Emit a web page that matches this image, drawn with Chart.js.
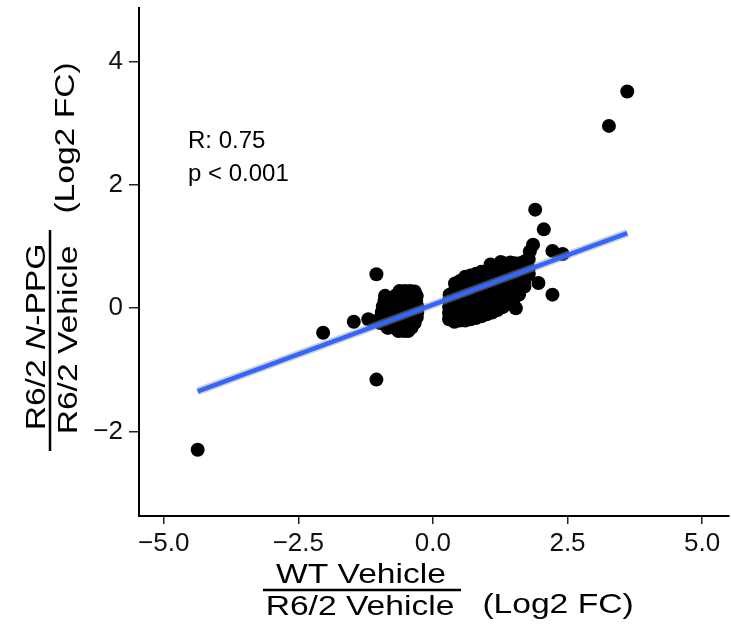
<!DOCTYPE html>
<html>
<head>
<meta charset="utf-8">
<script src="https://cdn.jsdelivr.net/npm/chart.js@4.4.1/dist/chart.umd.min.js"></script>
<style>
  html, body { margin: 0; padding: 0; background: #fff; overflow: hidden; }
  #wrap { width: 731px; height: 626px; }
</style>
</head>
<body>
<div id="wrap"><canvas id="c" width="731" height="626"></canvas></div>
<script>
// ---- data ----
const outlierPoints = [
  [-4.37, -2.30], [-2.04, -0.40], [-1.47, -0.22], [-1.05, 0.55], [-1.05, -1.16],
  [-1.20, -0.18], [1.90, 1.60], [2.06, 1.28], [2.22, 0.93], [2.41, 0.88],
  [1.96, 0.41], [2.22, 0.22], [1.54, 0.00], [3.27, 2.96], [3.61, 3.52], [1.86, 1.03]
];
const negClusterPoints = [
  [-0.62, 0.28], [-0.52, 0.28], [-0.42, 0.28], [-0.34, 0.27],
  [-0.89, 0.20], [-0.70, 0.20], [-0.60, 0.20], [-0.48, 0.20], [-0.38, 0.20], [-0.30, 0.20],
  [-0.90, 0.12], [-0.80, 0.12], [-0.70, 0.12], [-0.60, 0.12], [-0.50, 0.12], [-0.40, 0.12], [-0.31, 0.12],
  [-0.93, 0.03], [-0.84, 0.03], [-0.74, 0.03], [-0.64, 0.03], [-0.55, 0.03], [-0.45, 0.03], [-0.35, 0.03], [-0.29, 0.03],
  [-0.95, -0.06], [-0.86, -0.06], [-0.76, -0.06], [-0.66, -0.06], [-0.56, -0.06], [-0.46, -0.06], [-0.37, -0.06], [-0.29, -0.06],
  [-0.97, -0.15], [-0.88, -0.15], [-0.78, -0.15], [-0.68, -0.15], [-0.58, -0.15], [-0.48, -0.15], [-0.39, -0.15], [-0.30, -0.15],
  [-0.98, -0.24], [-0.87, -0.24], [-0.76, -0.24], [-0.65, -0.24], [-0.55, -0.24], [-0.44, -0.24], [-0.34, -0.24],
  [-0.84, -0.32], [-0.72, -0.32], [-0.62, -0.32], [-0.50, -0.32], [-0.40, -0.32],
  [-0.64, -0.37], [-0.54, -0.37], [-0.46, -0.37]
];
const posClusterPoints = [
  [0.30, -0.18], [0.30, -0.08], [0.30, 0.02], [0.30, 0.12], [0.31, 0.22],
  [0.40, -0.22], [0.40, -0.12], [0.40, -0.02], [0.40, 0.08], [0.40, 0.18], [0.40, 0.28], [0.41, 0.40],
  [0.50, -0.20], [0.50, -0.10], [0.50, 0.00], [0.50, 0.10], [0.50, 0.20], [0.50, 0.30], [0.50, 0.44],
  [0.60, -0.20], [0.60, -0.10], [0.60, 0.00], [0.60, 0.10], [0.60, 0.20], [0.60, 0.30], [0.60, 0.40], [0.60, 0.51],
  [0.70, -0.18], [0.70, -0.08], [0.70, 0.02], [0.70, 0.12], [0.70, 0.22], [0.70, 0.32], [0.70, 0.42], [0.70, 0.53],
  [0.80, -0.16], [0.80, -0.06], [0.80, 0.04], [0.80, 0.14], [0.80, 0.24], [0.80, 0.34], [0.80, 0.44], [0.80, 0.56],
  [0.90, -0.13], [0.90, -0.03], [0.90, 0.07], [0.90, 0.17], [0.90, 0.27], [0.90, 0.37], [0.90, 0.47], [0.90, 0.59],
  [1.00, -0.10], [1.00, 0.00], [1.00, 0.10], [1.00, 0.20], [1.00, 0.30], [1.00, 0.40], [1.00, 0.50], [1.00, 0.60], [1.07, 0.71],
  [1.10, -0.07], [1.10, 0.03], [1.10, 0.13], [1.10, 0.23], [1.10, 0.33], [1.10, 0.43], [1.10, 0.53], [1.10, 0.63],
  [1.20, -0.03], [1.20, 0.07], [1.20, 0.17], [1.20, 0.27], [1.20, 0.37], [1.20, 0.47], [1.20, 0.57], [1.20, 0.67], [1.26, 0.75],
  [1.30, 0.02], [1.30, 0.12], [1.30, 0.22], [1.30, 0.32], [1.30, 0.42], [1.30, 0.52], [1.30, 0.62], [1.32, 0.73],
  [1.40, 0.07], [1.40, 0.17], [1.40, 0.27], [1.40, 0.37], [1.40, 0.47], [1.40, 0.57], [1.40, 0.67], [1.44, 0.74],
  [1.50, 0.14], [1.50, 0.24], [1.50, 0.34], [1.50, 0.44], [1.50, 0.54], [1.50, 0.64], [1.52, 0.73],
  [1.60, 0.22], [1.60, 0.32], [1.60, 0.42], [1.60, 0.52], [1.60, 0.62], [1.62, 0.73],
  [1.70, 0.35], [1.70, 0.45], [1.70, 0.55], [1.70, 0.65], [1.70, 0.76],
  [1.78, 0.55], [1.78, 0.65], [1.78, 0.80], [1.80, 0.92]
];
const fitX = [-4.37, 3.61];
const fitY = [-1.35, 1.22];

const xTickValues = [-5, -2.5, 0, 2.5, 5];
const xTickLabels = ['\u22125.0', '\u22122.5', '0.0', '2.5', '5.0'];
const yTickValues = [-2, 0, 2, 4];
const yTickLabels = ['\u22122', '0', '2', '4'];

const statLines = ['R: 0.75', 'p < 0.001'];

// ---- build ----
const toXY = arr => arr.map(p => ({ x: p[0], y: p[1] }));
const allPoints = toXY(outlierPoints.concat(negClusterPoints, posClusterPoints));
const fitData = fitX.map((x, i) => ({ x: x, y: fitY[i] }));

const FONT = '"Liberation Sans", Arial, Helvetica, sans-serif';
Chart.defaults.font.family = FONT;
Chart.defaults.color = '#111';

function stretchedText(ctx, text, x, y, sx, rot) {
  ctx.save();
  ctx.translate(x, y);
  if (rot) ctx.rotate(rot);
  ctx.scale(sx, 1);
  ctx.fillText(text, 0, 0);
  ctx.restore();
}

function drawParts(ctx, parts, cx, cy, sx, rot) {
  let total = 0;
  const widths = parts.map(p => { ctx.font = p[1]; const w = ctx.measureText(p[0]).width; total += w; return w; });
  ctx.save();
  ctx.translate(cx, cy);
  if (rot) ctx.rotate(rot);
  ctx.scale(sx, 1);
  ctx.textAlign = 'left';
  let pos = -total / 2;
  parts.forEach((p, i) => { ctx.font = p[1]; ctx.fillText(p[0], pos, 0); pos += widths[i]; });
  ctx.restore();
}

const titlePlugin = {
  id: 'fracTitles',
  afterDraw(chart) {
    const ctx = chart.ctx;
    const SX = 1.2;
    const f = '28px ' + FONT;
    const fi = 'italic 28px ' + FONT;
    ctx.save();
    ctx.fillStyle = '#000';
    ctx.strokeStyle = '#000';
    ctx.textBaseline = 'alphabetic';
    ctx.textAlign = 'center';
    ctx.font = f;
    // x title (fraction)
    stretchedText(ctx, 'WT Vehicle', 361, 583, SX, 0);
    stretchedText(ctx, 'R6/2 Vehicle', 360, 615, SX, 0);
    stretchedText(ctx, '(Log2 FC)', 558, 613, SX, 0);
    ctx.lineWidth = 2.5;
    ctx.beginPath(); ctx.moveTo(263, 590); ctx.lineTo(461, 590); ctx.stroke();
    // y title (fraction, rotated)
    const R = -Math.PI / 2;
    drawParts(ctx, [['R6/2 ', f], ['N', fi], ['-PPG', f]], 45, 337, SX, R);
    ctx.font = f;
    ctx.textAlign = 'center';
    stretchedText(ctx, 'R6/2 Vehicle', 77, 340, SX, R);
    stretchedText(ctx, '(Log2 FC)', 74, 138, SX, R);
    ctx.beginPath(); ctx.moveTo(50, 230); ctx.lineTo(50, 451); ctx.stroke();
    // stats annotation
    ctx.textAlign = 'left';
    ctx.font = '24px ' + FONT;
    ctx.fillText(statLines[0], 188, 148);
    ctx.fillText(statLines[1], 188, 181);
    ctx.restore();
  }
};

new Chart(document.getElementById('c'), {
  type: 'scatter',
  data: {
    datasets: [
      {
        type: 'line', data: fitData, borderColor: '#3366FF', borderWidth: 4.5,
        pointRadius: 0, fill: false, order: 0, borderCapStyle: 'butt'
      },
      {
        type: 'line', data: fitData, borderColor: 'rgba(150,150,150,0.45)', borderWidth: 8,
        pointRadius: 0, fill: false, order: 1, borderCapStyle: 'butt'
      },
      {
        data: allPoints, backgroundColor: '#000', borderWidth: 0, pointRadius: 7,
        pointHoverRadius: 7, order: 2
      }
    ]
  },
  options: {
    responsive: false,
    animation: false,
    events: [],
    layout: { autoPadding: false, padding: { top: 8, left: 0, right: 2, bottom: 0 } },
    plugins: { legend: { display: false }, tooltip: { enabled: false } },
    scales: {
      x: {
        type: 'linear', min: -5.46, max: 5.5,
        afterFit: s => { s.height = 110; s.paddingLeft = 0; s.paddingRight = 0; },
        afterBuildTicks: s => { s.ticks = xTickValues.map(v => ({ value: v })); },
        ticks: {
          font: { size: 26 }, color: '#111', padding: 4, maxRotation: 0, autoSkip: false,
          callback: (v) => { const i = xTickValues.indexOf(v); return i >= 0 ? xTickLabels[i] : ''; }
        },
        grid: { display: true, drawOnChartArea: false, drawTicks: true, tickLength: 8, color: '#222', lineWidth: 1.5 },
        border: { display: true, color: '#000', width: 2 }
      },
      y: {
        type: 'linear', min: -3.375, max: 4.875,
        afterFit: s => { s.width = 139; s.paddingTop = 0; s.paddingBottom = 0; },
        afterBuildTicks: s => { s.ticks = yTickValues.map(v => ({ value: v })); },
        ticks: {
          font: { size: 26 }, color: '#111', padding: 6, autoSkip: false,
          callback: (v) => { const i = yTickValues.indexOf(v); return i >= 0 ? yTickLabels[i] : ''; }
        },
        grid: { display: true, drawOnChartArea: false, drawTicks: true, tickLength: 10, color: '#222', lineWidth: 1.5 },
        border: { display: true, color: '#000', width: 2 }
      }
    }
  },
  plugins: [titlePlugin]
});
</script>
</body>
</html>
